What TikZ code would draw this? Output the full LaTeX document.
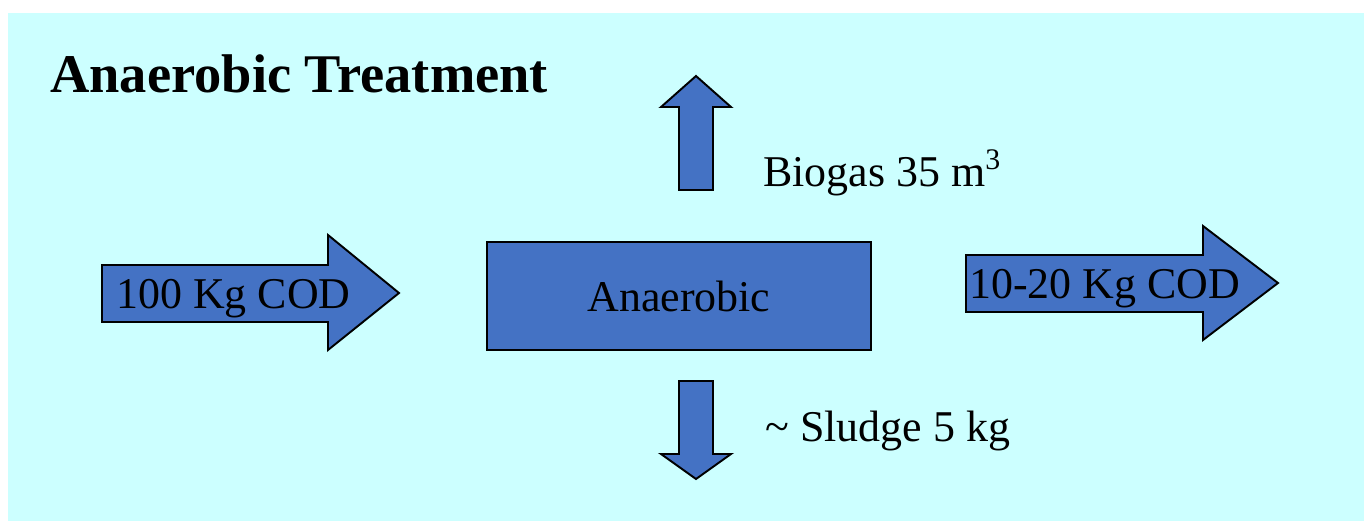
\documentclass[tikz,border=0pt]{standalone}
\usepackage{fontspec}
\setmainfont{Liberation Serif}
\definecolor{skycyan}{RGB}{204,255,255}
\definecolor{flowblue}{RGB}{68,114,196}

\begin{document}
\begin{tikzpicture}[x=0.02cm,y=-0.02cm,
	blockarrow/.style={fill=flowblue,draw=black,line width=1.1pt,line join=miter},
	flowtext/.style={inner sep=0pt,anchor=base west,font=\fontsize{25}{30}\selectfont}]
	\useasboundingbox (0,0) rectangle (1364,521);
	\fill[skycyan] (8,13) rectangle (1364,521);

	% block arrows
	\draw[blockarrow] (102,265) -- (328,265) -- (328,235) -- (399,293) -- (328,350) -- (328,322) -- (102,322) -- cycle;
	\draw[blockarrow] (966,255) -- (1203,255) -- (1203,226) -- (1278,283) -- (1203,340) -- (1203,312) -- (966,312) -- cycle;
	\draw[blockarrow] (679,190) -- (679,107) -- (661,107) -- (696,76) -- (731,107) -- (713,107) -- (713,190) -- cycle;
	\draw[blockarrow] (679,381) -- (713,381) -- (713,454) -- (731,454) -- (696,479) -- (661,454) -- (679,454) -- cycle;

	\node[inner sep=0pt,anchor=base west,font=\fontsize{31}{37}\selectfont\bfseries] (title) at (50,92) {Anaerobic Treatment};
	\node[blockarrow,minimum width=7.68cm,minimum height=2.16cm,inner sep=0pt,font=\fontsize{25}{30}\selectfont] (reactor) at (679,296) {Anaerobic};
	\node[flowtext] (infeed) at (116,308) {100 Kg COD};
	\node[flowtext] (outfeed) at (969,298) {10-20 Kg COD};
	\node[flowtext] (biogas) at (763,186) {Biogas 35 m{\fontsize{17}{20}\selectfont\raisebox{0.55em}{3}}};
	\node[flowtext] (sludge) at (765,441) {\textasciitilde{} Sludge 5 kg};
\end{tikzpicture}
\end{document}
